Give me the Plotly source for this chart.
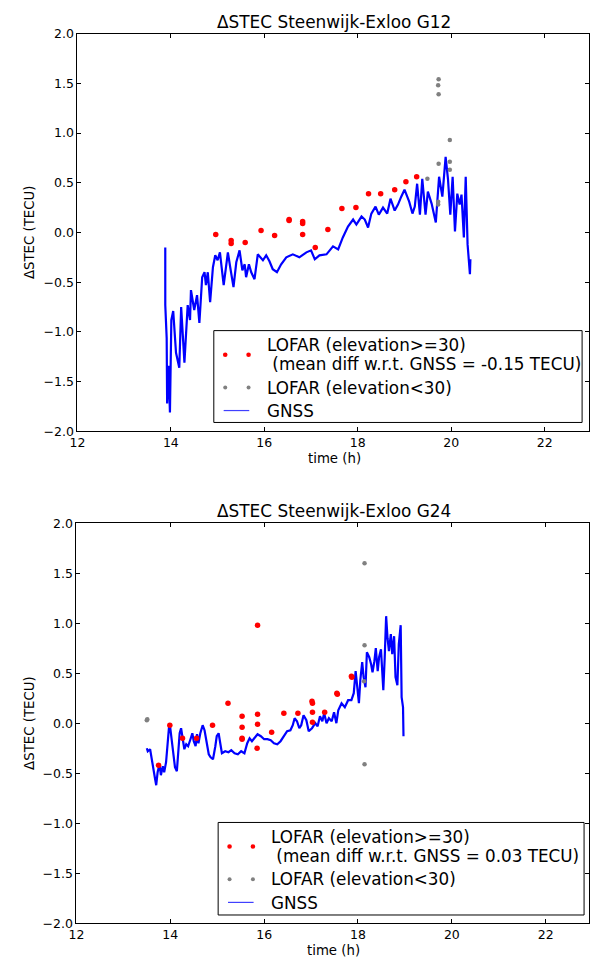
import plotly.graph_objects as go

# ---------------- data ----------------
# G12 panel
g12_gnss_t = [13.88, 13.88, 13.91, 13.92, 13.95, 13.98, 14.01, 14.05, 14.11, 14.18,
              14.22, 14.29, 14.31, 14.36, 14.41, 14.43, 14.50, 14.56, 14.61, 14.67,
              14.72, 14.75, 14.79, 14.84, 14.90, 14.95, 15.00, 15.05, 15.13, 15.22,
              15.27, 15.34, 15.40, 15.47, 15.53, 15.58, 15.61, 15.67, 15.72, 15.79,
              15.86, 15.97, 16.04, 16.11, 16.18, 16.27, 16.36, 16.47, 16.61, 16.75,
              16.90, 17.00, 17.08, 17.18, 17.33, 17.47, 17.58, 17.68, 17.79, 17.90,
              17.97, 18.08, 18.15, 18.22, 18.29, 18.38, 18.45, 18.54, 18.63, 18.70,
              18.79, 18.86, 18.93, 19.00, 19.10, 19.17, 19.22, 19.27, 19.33, 19.38,
              19.45, 19.50, 19.58, 19.67, 19.74, 19.81, 19.88, 19.93, 19.98, 20.03,
              20.08, 20.13, 20.18, 20.22, 20.27, 20.31, 20.35, 20.37, 20.40, 20.41]
g12_gnss_v = [-0.15, -0.73, -1.06, -1.72, -1.34, -1.81, -0.88, -0.79, -1.21, -1.36,
              -0.75, -1.31, -1.14, -0.73, -0.88, -0.58, -0.78, -0.63, -0.91, -0.45,
              -0.40, -0.53, -0.40, -0.70, -0.35, -0.23, -0.28, -0.20, -0.53, -0.20,
              -0.35, -0.55, -0.30, -0.18, -0.38, -0.32, -0.45, -0.32, -0.40, -0.47,
              -0.22, -0.28, -0.23, -0.29, -0.37, -0.40, -0.32, -0.25, -0.22, -0.25,
              -0.20, -0.18, -0.27, -0.23, -0.22, -0.14, -0.17, -0.05, 0.06, 0.13,
              0.08, 0.16, 0.13, 0.05, 0.19, 0.26, 0.18, 0.25, 0.19, 0.34,
              0.22, 0.28, 0.36, 0.43, 0.31, 0.19, 0.26, 0.49, 0.18, 0.54,
              0.18, 0.41, 0.29, 0.10, 0.56, 0.36, 0.76, 0.54, 0.18, 0.56,
              0.01, 0.39, 0.28, 0.38, -0.05, 0.56, -0.12, -0.25, -0.42, -0.27]
g12_high_t = [14.96, 15.29, 15.29, 15.59, 15.93, 16.22, 16.53, 16.53, 16.82, 16.82,
              16.82, 17.09, 17.36, 17.66, 17.96, 18.23, 18.49, 18.79, 19.03, 19.26]
g12_high_v = [-0.02, -0.08, -0.11, -0.10, 0.02, -0.03, 0.13, 0.12, 0.11, 0.09,
              -0.02, -0.15, 0.03, 0.24, 0.25, 0.39, 0.39, 0.43, 0.51, 0.56]
g12_low_t = [19.49, 19.73, 19.72, 19.73, 19.73, 19.72, 19.72, 19.97, 19.97, 19.97]
g12_low_v = [0.54, 1.54, 1.48, 1.39, 0.69, 0.31, 0.28, 0.93, 0.71, 0.63]

# G24 panel
g24_gnss_t = [13.50, 13.52, 13.57, 13.61, 13.64, 13.67, 13.70, 13.73, 13.77, 13.80,
              13.84, 13.87, 13.91, 13.94, 13.98, 14.00, 14.03, 14.07, 14.10, 14.14,
              14.17, 14.20, 14.23, 14.27, 14.30, 14.34, 14.38, 14.43, 14.47, 14.50,
              14.54, 14.57, 14.60, 14.64, 14.69, 14.73, 14.77, 14.82, 14.86, 14.91,
              14.96, 14.99, 15.03, 15.06, 15.10, 15.17, 15.24, 15.30, 15.37, 15.44,
              15.51, 15.58, 15.64, 15.69, 15.74, 15.79, 15.86, 15.93, 16.00, 16.07,
              16.14, 16.21, 16.28, 16.35, 16.42, 16.49, 16.56, 16.61, 16.65, 16.70,
              16.75, 16.79, 16.84, 16.90, 16.95, 17.02, 17.09, 17.14, 17.19, 17.24,
              17.28, 17.33, 17.38, 17.44, 17.49, 17.54, 17.58, 17.65, 17.72, 17.79,
              17.86, 17.91, 17.95, 17.98, 18.02, 18.05, 18.09, 18.12, 18.16, 18.19,
              18.24, 18.28, 18.31, 18.35, 18.38, 18.42, 18.45, 18.49, 18.54, 18.57,
              18.60, 18.63, 18.66, 18.70, 18.73, 18.77, 18.80, 18.84, 18.87, 18.91,
              18.93, 18.96, 18.97]
g24_gnss_v = [-0.25, -0.28, -0.26, -0.39, -0.49, -0.54, -0.62, -0.49, -0.41, -0.52,
              -0.43, -0.49, -0.39, -0.23, 0.00, -0.05, -0.16, -0.30, -0.44, -0.48,
              -0.26, -0.10, -0.05, -0.16, -0.26, -0.21, -0.23, -0.16, -0.10, -0.18,
              -0.23, -0.11, -0.20, -0.10, -0.02, -0.07, -0.20, -0.31, -0.34, -0.36,
              -0.23, -0.13, -0.10, -0.20, -0.30, -0.28, -0.29, -0.27, -0.30, -0.31,
              -0.28, -0.30, -0.20, -0.15, -0.18, -0.15, -0.11, -0.13, -0.16, -0.16,
              -0.17, -0.20, -0.21, -0.18, -0.13, -0.08, -0.07, -0.02, 0.05, 0.02,
              -0.05, -0.02, 0.08, 0.03, -0.08, -0.05, 0.00, -0.03, 0.07, 0.02,
              0.10, 0.00, 0.05, 0.02, 0.11, 0.00, 0.13, 0.20, 0.16, 0.23,
              0.23, 0.30, 0.52, 0.39, 0.20, 0.43, 0.61, 0.46, 0.36, 0.71,
              0.66, 0.59, 0.51, 0.62, 0.75, 0.52, 0.66, 0.74, 0.33, 0.66,
              1.07, 0.85, 0.72, 0.89, 0.69, 0.87, 0.46, 0.38, 0.79, 0.98,
              0.26, 0.16, -0.13]
g24_high_t = [13.75, 13.99, 14.26, 14.56, 14.90, 15.23, 15.53, 15.53, 15.53, 15.53,
              15.86, 15.86, 15.86, 15.85, 16.16, 16.42, 16.72, 17.02, 17.03, 17.03,
              17.03, 17.29, 17.55, 17.56, 17.86, 17.87]
g24_high_v = [-0.42, -0.02, -0.15, -0.15, -0.02, 0.20, 0.07, -0.04, -0.15, -0.16,
              0.98, 0.09, -0.01, -0.25, -0.09, 0.10, 0.10, 0.22, 0.20, 0.11,
              0.01, 0.11, 0.30, 0.29, 0.47, 0.46]
g24_low_t = [13.50, 13.51, 18.14, 18.14, 18.13, 18.14]
g24_low_v = [0.03, 0.04, 1.60, 0.78, 0.42, -0.41]

titles = ["\u0394STEC Steenwijk-Exloo G12", "\u0394STEC Steenwijk-Exloo G24"]
mean_diffs = ["-0.15", "0.03"]
x_ticks = [12, 14, 16, 18, 20, 22]
y_ticks = [-2.0, -1.5, -1.0, -0.5, 0.0, 0.5, 1.0, 1.5, 2.0]

# ---------------- layout geometry (pixels) ----------------
W, H = 590, 966
FONT = "DejaVu Sans"
RED, GRAY, BLUE = "#ff0000", "#808080", "#0000ff"

panels = [
    dict(left=70.5, top=26.0, bottom=430.0, pxu=47.45,
         legend=(209.0, 327.7, 583.0, 421.0),
         gnss=(g12_gnss_t, g12_gnss_v), high=(g12_high_t, g12_high_v),
         low=(g12_low_t, g12_low_v)),
    dict(left=69.5, top=523.3, bottom=929.7, pxu=47.65,
         legend=(213.4, 827.3, 585.0, 921.3),
         gnss=(g24_gnss_t, g24_gnss_v), high=(g24_high_t, g24_high_v),
         low=(g24_low_t, g24_low_v)),
]

def px(x):
    return x / W

def py(y):
    return 1 - y / H

fig = go.Figure()
shapes = []
annotations = []

for i, p in enumerate(panels):
    sfx = "" if i == 0 else "2"
    xa, ya = "x" + sfx, "y" + sfx
    fig.add_trace(go.Scatter(x=p["gnss"][0], y=p["gnss"][1], mode="lines",
                             line=dict(color=BLUE, width=2.2), xaxis=xa, yaxis=ya,
                             name="GNSS", showlegend=False))
    fig.add_trace(go.Scatter(x=p["high"][0], y=p["high"][1], mode="markers",
                             marker=dict(color=RED, size=5.5, line=dict(width=0)),
                             xaxis=xa, yaxis=ya, name="LOFAR (elevation>=30)",
                             showlegend=False))
    fig.add_trace(go.Scatter(x=p["low"][0], y=p["low"][1], mode="markers",
                             marker=dict(color=GRAY, size=4.5, line=dict(width=0)),
                             xaxis=xa, yaxis=ya, name="LOFAR (elevation<30)",
                             showlegend=False))

    xmax = 12 + (W - p["left"]) / p["pxu"]
    axis_common = dict(showgrid=False, zeroline=False, showline=True,
                       linecolor="black", linewidth=1, mirror="ticks",
                       ticks="inside", ticklen=4, tickcolor="black", tickwidth=1,
                       tickfont=dict(family=FONT, size=12.5, color="black"))
    fig.update_layout(**{
        "xaxis" + sfx: dict(domain=[px(p["left"]), 1], range=[12, xmax],
                            tickvals=x_ticks, ticktext=[str(v) for v in x_ticks],
                            anchor=ya, **axis_common),
        "yaxis" + sfx: dict(domain=[py(p["bottom"]), py(p["top"])], range=[-2, 2],
                            tickvals=y_ticks, tickformat=".1f", anchor=xa,
                            **axis_common),
    })

    cx = (p["left"] + W) / 2
    annotations.append(dict(text=titles[i], x=px(cx + 1), y=py(p["top"] - 12),
                            xref="paper", yref="paper", showarrow=False,
                            xanchor="center", yanchor="middle",
                            font=dict(family=FONT, size=16.9, color="black")))
    annotations.append(dict(text="time (h)", x=px(cx + 1), y=py(p["bottom"] + 28),
                            xref="paper", yref="paper", showarrow=False,
                            xanchor="center", yanchor="middle",
                            font=dict(family=FONT, size=13.3, color="black")))
    annotations.append(dict(text="\u0394STEC (TECU)", x=px(22), y=py((p["top"] + p["bottom"]) / 2),
                            xref="paper", yref="paper", showarrow=False, textangle=-90,
                            xanchor="center", yanchor="middle",
                            font=dict(family=FONT, size=13.3, color="black")))

    # legend box
    L, T, R, B = p["legend"]
    shapes.append(dict(type="rect", xref="paper", yref="paper",
                       x0=px(L), x1=px(R), y0=py(B), y1=py(T),
                       line=dict(color="black", width=1), fillcolor="white", layer="above"))
    texts = [("LOFAR (elevation>=30)", 15.0),
             ("\u00a0(mean diff w.r.t. GNSS = " + mean_diffs[i] + " TECU)", 33.7),
             ("LOFAR (elevation<30)", 57.8),
             ("GNSS", 81.6)]
    for txt, dy in texts:
        annotations.append(dict(text=txt, x=px(L + 52), y=py(T + dy),
                                xref="paper", yref="paper", showarrow=False,
                                xanchor="left", yanchor="middle",
                                font=dict(family=FONT, size=16.8, color="black")))
    for mx in (11.6, 35.3):
        for col, dy, r in ((RED, 24.5, 2.3), (GRAY, 57.8, 2.0)):
            shapes.append(dict(type="circle", xref="paper", yref="paper",
                               xsizemode="pixel", ysizemode="pixel",
                               xanchor=px(L + mx), yanchor=py(T + dy),
                               x0=-r, x1=r, y0=-r, y1=r,
                               fillcolor=col, line=dict(width=0), layer="above"))
    shapes.append(dict(type="line", xref="paper", yref="paper",
                       x0=px(L + 10), x1=px(L + 36), y0=py(T + 81.2), y1=py(T + 81.2),
                       line=dict(color="#4040ff", width=1.2), layer="above"))

fig.update_layout(width=W, height=H, autosize=False,
                  margin=dict(l=0, r=0, t=0, b=0),
                  paper_bgcolor="white", plot_bgcolor="white",
                  showlegend=False, shapes=shapes, annotations=annotations,
                  font=dict(family=FONT, color="black"))

fig.write_html("out.html")
